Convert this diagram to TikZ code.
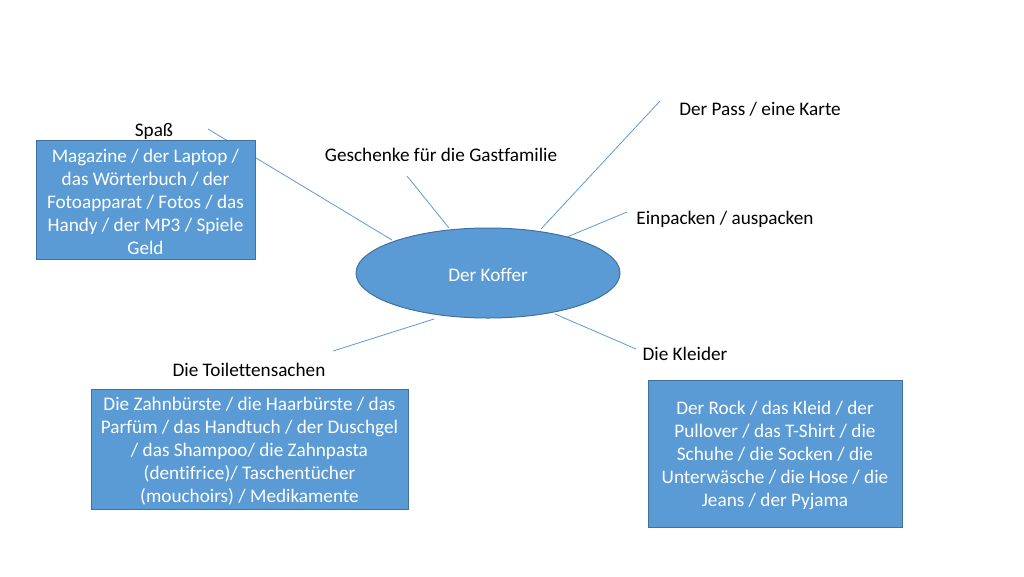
\documentclass[tikz,border=0pt]{standalone}
\usepackage{fontspec}
\setmainfont{Carlito}[Ligatures=NoCommon]
\usetikzlibrary{shapes.geometric}
\definecolor{fillblue}{HTML}{5B9BD5}
\definecolor{edgeblue}{HTML}{41719C}
\begin{document}
\begin{tikzpicture}[x=1pt,y=-1pt,
  lbl/.style={font=\fontsize{19.2}{23}\selectfont, text=black, inner sep=0pt, yshift=-2pt},
  box/.style={draw=edgeblue, fill=fillblue, line width=1pt, inner sep=0pt},
  boxtext/.style={text=white, align=center, font=\fontsize{19.2}{23}\selectfont, inner sep=0pt, yshift=-2pt},
  conn/.style={draw=fillblue, line width=0.8pt}]
\useasboundingbox (0,0) rectangle (1024,576);
% connector end points
\coordinate (a1) at (208,129); \coordinate (b1) at (392,240);
\coordinate (a2) at (407,176); \coordinate (b2) at (449,228);
\coordinate (a3) at (660,101); \coordinate (b3) at (541,229);
\coordinate (a4) at (627,212); \coordinate (b4) at (567,237);
\coordinate (a5) at (636,349); \coordinate (b5) at (555,314);
\coordinate (a6) at (333,351); \coordinate (b6) at (434,319);
\foreach \i in {1,...,6} {\draw[conn] (a\i) -- (b\i);}
% center
\node[ellipse, draw=edgeblue, fill=fillblue, line width=1pt, minimum width=264pt, minimum height=90pt,
  inner sep=0pt] (koffer) at (488,273) {};
\node[boxtext] (kofferlabel) at (koffer) {Der Koffer};
% labels
\node[lbl] (spass) at (154,129) {Spaß};
\node[lbl] (gesch) at (441,153) {Geschenke für die Gastfamilie};
\node[lbl] (pass) at (760,107) {Der Pass / eine Karte};
\node[lbl] (einp) at (725,217) {Einpacken / auspacken};
\node[lbl] (kleid) at (685,352) {Die Kleider};
\node[lbl] (toil) at (249,368) {Die Toilettensachen};
% boxes
\node[box, minimum width=219pt, minimum height=119pt] (box1) at (145.5,199.5) {};
\node[boxtext] (t1) at (box1)
  {Magazine / der Laptop /\\ das Wörterbuch / der\\ Fotoapparat / Fotos / das\\ Handy / der MP3 / Spiele\\ Geld};
\node[box, minimum width=317pt, minimum height=120pt] (box2) at (249.5,449) {};
\node[boxtext] (t2) at (box2)
  {Die Zahnbürste / die Haarbürste / das\\ Parfüm / das Handtuch / der Duschgel\\ / das Shampoo/ die Zahnpasta\\ (dentifrice)/ Taschentücher\\ (mouchoirs) / Medikamente};
\node[box, minimum width=254pt, minimum height=147pt] (box3) at (775,453.5) {};
\node[boxtext] (t3) at (box3)
  {Der Rock / das Kleid / der\\ Pullover / das T-Shirt / die\\ Schuhe / die Socken / die\\ Unterwäsche / die Hose / die\\ Jeans / der Pyjama};
\end{tikzpicture}
\end{document}
